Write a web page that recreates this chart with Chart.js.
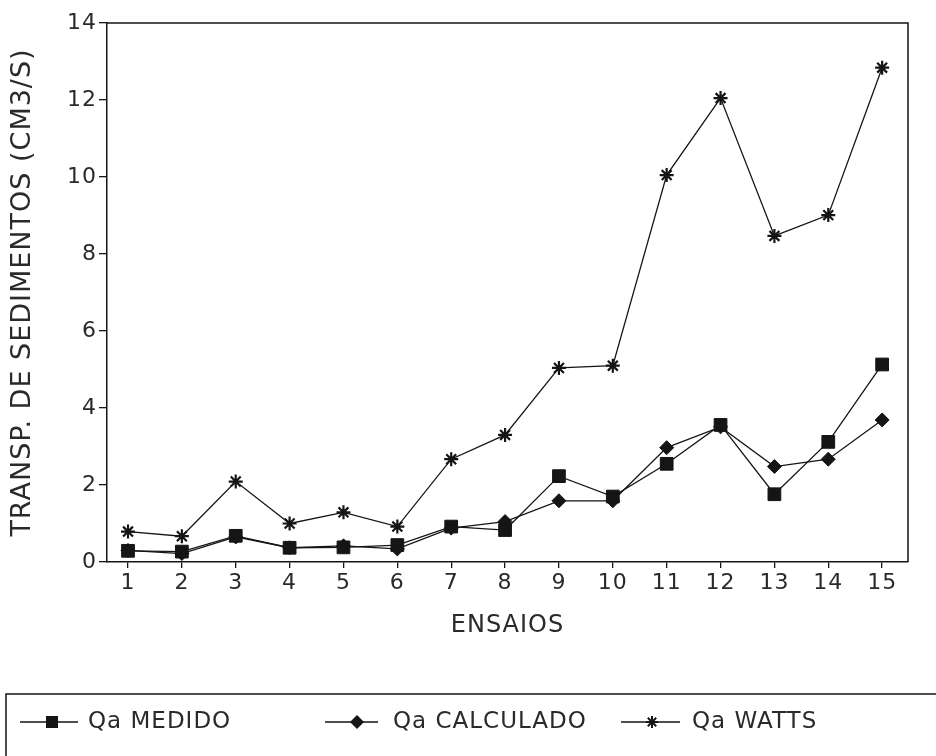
<!DOCTYPE html>
<html>
<head>
<meta charset="utf-8">
<script src="https://cdn.jsdelivr.net/npm/chart.js@4.4.1/dist/chart.umd.min.js"></script>
<style>
  html, body { margin: 0; background: #fff; }
  #wrap { width: 936px; height: 756px; }
</style>
</head>
<body>
<div id="wrap"><canvas id="grafico" width="936" height="756"></canvas></div>
<script>
// valores
const ensaios = [1, 2, 3, 4, 5, 6, 7, 8, 9, 10, 11, 12, 13, 14, 15];
const qaMedido = [0.29, 0.27, 0.68, 0.37, 0.38, 0.44, 0.92, 0.83, 2.23, 1.70, 2.55, 3.56, 1.76, 3.12, 5.13];
const qaCalculado = [0.30, 0.22, 0.65, 0.37, 0.42, 0.34, 0.88, 1.05, 1.59, 1.59, 2.97, 3.51, 2.48, 2.67, 3.69];
const qaWatts = [0.79, 0.67, 2.09, 1.00, 1.29, 0.92, 2.67, 3.30, 5.04, 5.10, 10.05, 12.05, 8.47, 9.01, 12.84];
const yTicks = [0, 2, 4, 6, 8, 10, 12, 14];

const tinta = '#151515';
const texto = '#2a2a2a';
const fonte = '"DejaVu Sans", sans-serif';

function pontos(valores) {
    return ensaios.map((e, i) => ({ x: e, y: valores[i] }));
}

// moldura do gráfico (topo e direita)
const moldura = {
    id: 'moldura',
    beforeDraw(chart) {
        chart.ctx.letterSpacing = '1px';
    },
    afterDraw(chart) {
        const { ctx, chartArea: a } = chart;
        ctx.save();
        ctx.strokeStyle = tinta;
        ctx.lineWidth = 1.5;
        ctx.beginPath();
        ctx.moveTo(a.left, a.top);
        ctx.lineTo(a.right, a.top);
        ctx.lineTo(a.right, a.bottom);
        ctx.stroke();
        ctx.restore();
    }
};

// legenda em caixa, embaixo
const legendaCaixa = {
    id: 'legendaCaixa',
    afterDraw(chart) {
        const ctx = chart.ctx;
        const y = 722;
        const itens = [
            { x0: 20, x1: 78, mx: 52, tx: 88 },
            { x0: 325, x1: 378, mx: 357, tx: 393 },
            { x0: 621, x1: 680, mx: 652, tx: 692 }
        ];
        ctx.save();
        ctx.strokeStyle = tinta;
        ctx.fillStyle = tinta;
        ctx.lineWidth = 1.5;
        ctx.beginPath();
        ctx.moveTo(6, 780);
        ctx.lineTo(6, 694);
        ctx.lineTo(950, 694);
        ctx.stroke();

        chart.data.datasets.forEach((ds, i) => {
            const it = itens[i];
            ctx.lineWidth = 1.5;
            ctx.beginPath();
            ctx.moveTo(it.x0, y);
            ctx.lineTo(it.x1, y);
            ctx.stroke();

            ctx.beginPath();
            if (ds.pointStyle === 'rect') {
                ctx.rect(it.mx - 6, y - 6, 12, 12);
                ctx.fill();
            } else if (ds.pointStyle === 'rectRot') {
                ctx.moveTo(it.mx - 7, y);
                ctx.lineTo(it.mx, y - 7);
                ctx.lineTo(it.mx + 7, y);
                ctx.lineTo(it.mx, y + 7);
                ctx.closePath();
                ctx.fill();
            } else {
                ctx.lineWidth = 2;
                const r = 6;
                ctx.moveTo(it.mx - r, y); ctx.lineTo(it.mx + r, y);
                ctx.moveTo(it.mx, y - r); ctx.lineTo(it.mx, y + r);
                ctx.moveTo(it.mx - r * 0.7, y - r * 0.7); ctx.lineTo(it.mx + r * 0.7, y + r * 0.7);
                ctx.moveTo(it.mx - r * 0.7, y + r * 0.7); ctx.lineTo(it.mx + r * 0.7, y - r * 0.7);
                ctx.stroke();
            }

            ctx.fillStyle = texto;
            ctx.font = '23px ' + fonte;
            ctx.letterSpacing = '1px';
            ctx.textBaseline = 'middle';
            ctx.textAlign = 'left';
            ctx.fillText(ds.label, it.tx, y);
            ctx.fillStyle = tinta;
        });
        ctx.restore();
    }
};

const serie = (label, valores, estilo, raio, esp) => ({
    label: label,
    data: pontos(valores),
    borderColor: tinta,
    backgroundColor: tinta,
    borderWidth: 1.3,
    pointStyle: estilo,
    pointRadius: raio,
    pointBorderWidth: esp,
    pointBackgroundColor: tinta,
    pointBorderColor: tinta,
    tension: 0
});

new Chart(document.getElementById('grafico'), {
    type: 'line',
    data: {
        datasets: [
            serie('Qa MEDIDO', qaMedido, 'rect', 9, 1),
            serie('Qa CALCULADO', qaCalculado, 'rectRot', 7, 1),
            serie('Qa WATTS', qaWatts, 'star', 7, 2.2)
        ]
    },
    options: {
        responsive: false,
        devicePixelRatio: 1,
        animation: false,
        layout: { padding: { left: 0, top: 23, right: 28, bottom: 116 } },
        plugins: {
            legend: { display: false },
            tooltip: { enabled: false }
        },
        scales: {
            x: {
                type: 'linear',
                min: 0.61,
                max: 15.48,
                afterBuildTicks: (scale) => {
                    scale.ticks = ensaios.map(v => ({ value: v }));
                },
                afterFit: (scale) => { scale.height = 78; },
                grid: { drawOnChartArea: false, color: tinta, lineWidth: 1.3, tickLength: 6 },
                border: { display: true, color: tinta, width: 1.5 },
                ticks: {
                    color: texto,
                    font: { family: fonte, size: 22 },
                    padding: 2,
                    maxRotation: 0,
                    autoSkip: false,
                    callback: (v) => String(v)
                },
                title: {
                    display: true,
                    text: 'ENSAIOS',
                    color: texto,
                    font: { family: fonte, size: 24 },
                    padding: { top: 0, bottom: 0 }
                }
            },
            y: {
                min: 0,
                max: 14,
                afterBuildTicks: (scale) => {
                    scale.ticks = yTicks.map(v => ({ value: v }));
                },
                afterFit: (scale) => { scale.width = 107; },
                grid: { drawOnChartArea: false, color: tinta, lineWidth: 1.3, tickLength: 8 },
                border: { display: true, color: tinta, width: 1.5 },
                ticks: {
                    color: texto,
                    font: { family: fonte, size: 22 },
                    padding: 2
                },
                title: {
                    display: true,
                    text: 'TRANSP. DE SEDIMENTOS (CM3/S)',
                    color: texto,
                    font: { family: fonte, size: 27 },
                    padding: { top: 7, bottom: 0 }
                }
            }
        }
    },
    plugins: [moldura, legendaCaixa]
});
</script>
</body>
</html>
